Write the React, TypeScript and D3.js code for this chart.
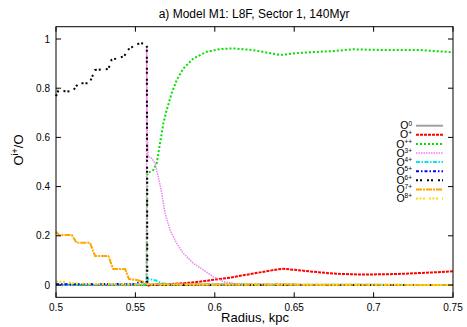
import React from "react";
import { scaleLinear, line } from "d3";

// radius (kpc) vs ion fraction
const o0 = [[0.5, 0], [0.75, 0]];
const o1 = [[0.5, 0], [0.557, 0], [0.5575, -0.004], [0.56, 0.001], [0.57, 0.003], [0.58, 0.007], [0.59, 0.013], [0.6, 0.022], [0.61, 0.03], [0.62, 0.042], [0.63, 0.053], [0.64, 0.064], [0.643, 0.066], [0.65, 0.062], [0.66, 0.055], [0.67, 0.049], [0.68, 0.045], [0.69, 0.043], [0.7, 0.043], [0.71, 0.044], [0.72, 0.046], [0.73, 0.049], [0.74, 0.052], [0.75, 0.056]];
const o2 = [[0.5, 0], [0.557, 0], [0.5575, 0.454], [0.5613, 0.467], [0.5634, 0.495], [0.5655, 0.576], [0.5676, 0.657], [0.5697, 0.711], [0.5728, 0.779], [0.576, 0.833], [0.5802, 0.88], [0.5865, 0.921], [0.5949, 0.948], [0.6033, 0.959], [0.6115, 0.962], [0.624, 0.955], [0.641, 0.935], [0.6537, 0.944], [0.6744, 0.951], [0.687, 0.958], [0.7084, 0.955], [0.7292, 0.955], [0.75, 0.946]];
const o3 = [[0.5, 0], [0.557, 0.003], [0.5571, 0.962], [0.5575, 0.6], [0.558, 0.522], [0.5603, 0.515], [0.5624, 0.495], [0.5644, 0.44], [0.5666, 0.373], [0.5687, 0.291], [0.5718, 0.224], [0.576, 0.169], [0.5802, 0.129], [0.5865, 0.088], [0.5928, 0.061], [0.599, 0.034], [0.6054, 0.014], [0.6138, 0.004], [0.625, 0.001], [0.75, 0]];
const o4 = [[0.5, 0.002], [0.557, 0.003], [0.5578, 0.025], [0.5603, 0.022], [0.5634, 0.017], [0.5667, 0.007], [0.572, 0.002], [0.75, 0]];
const o5 = [[0.5, 0.003], [0.55, 0.004], [0.553, 0.013], [0.5567, 0.012], [0.5575, 0.001], [0.75, 0]];
const o6 = [[0.5, 0.768], [0.5015, 0.79], [0.5094, 0.786], [0.512, 0.8], [0.514, 0.82], [0.521, 0.82], [0.5246, 0.874], [0.533, 0.878], [0.535, 0.915], [0.543, 0.93], [0.545, 0.955], [0.55, 0.976], [0.553, 0.983], [0.5567, 0.98], [0.5572, 0.97], [0.5575, 0], [0.75, 0]];
const o7 = [[0.5, 0.217], [0.502, 0.203], [0.5099, 0.203], [0.513, 0.172], [0.5214, 0.172], [0.5246, 0.118], [0.533, 0.118], [0.536, 0.065], [0.5435, 0.065], [0.546, 0.024], [0.551, 0.02], [0.5555, 0.012], [0.5575, 0.003], [0.75, 0]];
const o8 = [[0.5, 0.014], [0.507, 0.012], [0.511, 0.007], [0.52, 0.004], [0.557, 0.003], [0.56, 0.001], [0.75, 0]];

const seriesData = [o0, o1, o2, o3, o4, o5, o6, o7, o8];
const seriesSup = ["0", "+", "++", "3+", "4+", "5+", "6+", "7+", "8+"];
const seriesColor = ["#a0a0a0", "#ff0000", "#00e000", "#ee82ee", "#00e5ee", "#0000ff", "#000000", "#ffa500", "#ffd700"];
const seriesDash = ["none", "3,1", "2,2", "1.5,1", "4,1.5,1.5,1.5", "3,2,1.5,2", "2,2,2,5", "6,1,2,1", "2,1.5,2,1.5,2,4"];
const seriesWidth = [2, 2, 2, 1.5, 2, 2, 2, 2, 2];

const xTicks = [0.5, 0.55, 0.6, 0.65, 0.7, 0.75];
const yTicks = [0, 0.2, 0.4, 0.6, 0.8, 1];

export default function App() {
  const width = 467;
  const height = 327;
  const margin = { left: 56, right: 14, top: 26.7, bottom: 29.7 };
  const x = scaleLinear().domain([0.5, 0.75]).range([margin.left, width - margin.right]);
  const y = scaleLinear().domain([-0.05, 1.05]).range([height - margin.bottom, margin.top]);
  const path = line<number[]>()
    .x((d) => x(d[0]))
    .y((d) => y(d[1]));
  const font = "'Liberation Sans', Arial, sans-serif";
  const tick = 5;
  const x0 = x.range()[0], x1 = x.range()[1];
  const y0 = y.range()[0], y1 = y.range()[1];

  return (
    <svg width={width} height={height} style={{ position: "absolute", left: 0, top: 0 }} fontFamily={font}>
      <rect width={width} height={height} fill="#fff" />
      <text x={254} y={17.5} fontSize={12} textAnchor="middle">a) Model M1: L8F, Sector 1, 140Myr</text>

      {seriesData.map((d, i) => (
        <path key={i} d={path(d) || ""} fill="none" stroke={seriesColor[i]} strokeWidth={seriesWidth[i]}
          strokeDasharray={seriesDash[i]} />
      ))}

      <rect x={x0} y={y1} width={x1 - x0} height={y0 - y1} fill="none" stroke="#000" strokeWidth={1} />
      {xTicks.map((t) => (
        <g key={t}>
          <line x1={x(t)} x2={x(t)} y1={y0} y2={y0 - tick} stroke="#000" />
          <line x1={x(t)} x2={x(t)} y1={y1} y2={y1 + tick} stroke="#000" />
          <text x={x(t)} y={311} fontSize={10} textAnchor="middle">{t}</text>
        </g>
      ))}
      {yTicks.map((t) => (
        <g key={t}>
          <line x1={x0} x2={x0 + tick} y1={y(t)} y2={y(t)} stroke="#000" />
          <line x1={x1} x2={x1 - tick} y1={y(t)} y2={y(t)} stroke="#000" />
          <text x={50} y={y(t) + 3.5} fontSize={10} textAnchor="end">{t}</text>
        </g>
      ))}
      <text x={255} y={322} fontSize={13} textAnchor="middle">Radius, kpc</text>
      <text transform="translate(23,150) rotate(-90)" fontSize={13} textAnchor="middle">
        O<tspan fontSize={9} dy={-5}>i+</tspan><tspan dy={5}>/O</tspan>
      </text>

      {seriesSup.map((s, i) => {
        const ry = 125.7 + i * 9.1;
        return (
          <g key={s}>
            <text x={412} y={ry + 3.6} fontSize={10.5} textAnchor="end">
              O<tspan fontSize={6.5} dy={-3.8}>{s}</tspan>
            </text>
            <line x1={416} x2={443} y1={ry} y2={ry} stroke={seriesColor[i]} strokeWidth={seriesWidth[i]}
              strokeDasharray={seriesDash[i]} />
          </g>
        );
      })}
    </svg>
  );
}
